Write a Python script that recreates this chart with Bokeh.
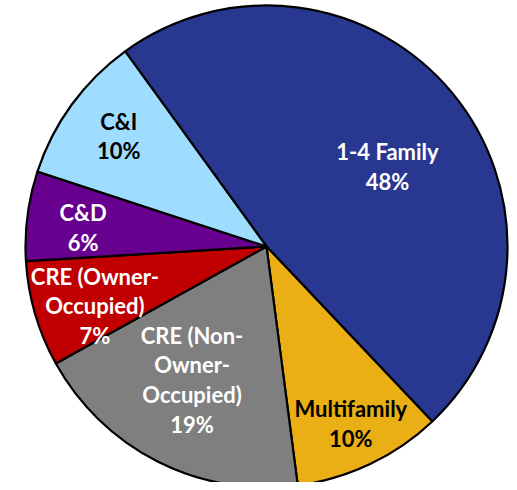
import math
from bokeh.plotting import figure
from bokeh.models import Range1d, ColumnDataSource
from bokeh.core.properties import value
from bokeh.embed import file_html
from bokeh.resources import INLINE

# data
categories = ["1-4 Family", "Multifamily", "CRE (Non-Owner-Occupied)", "CRE (Owner-Occupied)", "C&D", "C&I"]
shares = [47.9, 10.0, 19.0, 7.1, 6.0, 10.0]
label_texts = ["1-4 Family\n48%", "Multifamily\n10%", "CRE (Non-\nOwner-\nOccupied)\n19%",
               "CRE (Owner-\nOccupied)\n7%", "C&D\n6%", "C&I\n10%"]

# styles / layout
colors = ["#283891", "#E9AF14", "#7F7F7F", "#C00000", "#67008F", "#9EDDFF"]
text_colors = ["white", "black", "white", "white", "white", "black"]
# label block offsets from the pie centre, as fractions of the radius
label_dx = [0.502, 0.350, -0.309, -0.712, -0.761, -0.613]
label_dy = [0.331, -0.735, -0.553, -0.246, 0.078, 0.459]

W, H = 509, 482
R = 241
cx, cy = 266, H - 246
start_deg = 125.9  # math angle where first slice begins (going clockwise)

total = sum(shares)
starts, ends = [], []
cum = 0.0
for s in shares:
    a_hi = start_deg - cum / total * 360
    a_lo = a_hi - s / total * 360
    starts.append(math.radians(a_lo))
    ends.append(math.radians(a_hi))
    cum += s
lx = [cx + d * R for d in label_dx]
ly = [cy + d * R for d in label_dy]

src = ColumnDataSource(dict(cat=categories, start=starts, end=ends, color=colors,
                            lx=lx, ly=ly, txt=label_texts, tc=text_colors))

p = figure(width=W, height=H, output_backend="svg", toolbar_location=None,
           x_range=Range1d(0, W), y_range=Range1d(0, H), min_border=0,
           x_axis_type=None, y_axis_type=None)
p.outline_line_color = None
p.grid.visible = False
p.background_fill_color = "white"
p.border_fill_color = "white"

p.wedge(x=cx, y=cy, radius=R, start_angle="start", end_angle="end", direction="anticlock",
        fill_color="color", line_color="black", line_width=2.2, source=src)

p.text(x="lx", y="ly", text="txt", source=src, text_color="tc",
       text_font=value("Lato"), text_font_style="bold", text_font_size="22px",
       text_align="center", text_baseline="middle", text_line_height=1.1)

open("out.html", "w").write(file_html(p, INLINE))
